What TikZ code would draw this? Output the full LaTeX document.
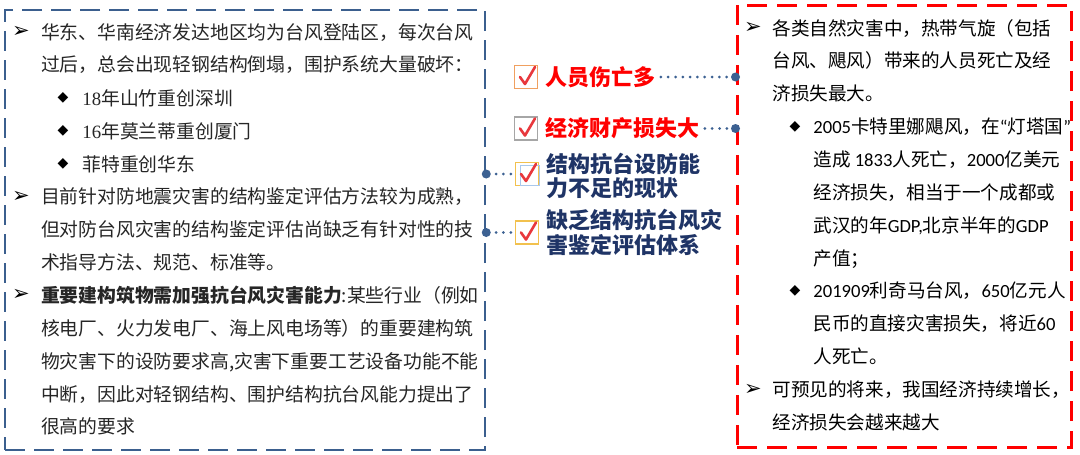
\documentclass[tikz,border=0pt]{standalone}
\usepackage{fontspec}
\setmainfont{Liberation Serif}
\newfontfamily\cjk{Noto Sans CJK SC}
\newfontfamily\cali{Carlito}
\newfontfamily\tms{Liberation Serif}
\newfontfamily\sym{DejaVu Sans}
\usetikzlibrary{positioning}

\definecolor{boxblue}{HTML}{3B5F8E}
\definecolor{dotblue}{HTML}{3C6192}
\definecolor{navy}{HTML}{1F3466}
\definecolor{chkorange}{HTML}{F0A060}
\definecolor{chkgray}{HTML}{A6A6A6}
\definecolor{chkgold}{HTML}{F2C14E}
\definecolor{chkinner}{HTML}{A9C8EC}
\definecolor{tickred}{HTML}{E8383D}

\newcommand{\arrbul}{➢}
\newcommand{\diabul}{◆}

\begin{document}
\begin{tikzpicture}[
    x=1pt, y=-1pt,
    thick,
    % paragraphs sit on the baseline of their last line
    leftpara/.style={anchor=base west, inner sep=0pt, align=left, text=black!85,
        font=\cjk\fontsize{18.8}{32.9}\selectfont},
    rightpara/.style={anchor=base west, inner sep=0pt, align=left, text=black,
        font=\cjk\fontsize{18.6}{32.85}\selectfont},
    keypoint/.style={inner sep=0pt, align=left, font=\cjk\bfseries\fontsize{22}{24.5}\selectfont},
    bul/.style={inner sep=0pt, font=\sym\fontsize{21}{21}\selectfont},
    dia/.style={inner sep=0pt, font=\sym\fontsize{14}{14}\selectfont},
    chkbox/.style={draw, line width=1.2pt, minimum size=23pt, inner sep=0pt},
    dotend/.style={circle, fill=dotblue, inner sep=0pt, minimum size=9pt},
    conn/.style={dotblue, line width=3pt, line cap=round, dash pattern=on 0pt off 7.3pt,
        shorten <=5pt, shorten >=3pt},
    redtick/.pic={\draw[tickred, line width=2.6pt, line cap=round, line join=round]
        (-6,0) -- (-1,7) -- (9,-10);}
]
\useasboundingbox[fill=white] (0,0) rectangle (1080,455);

% the two boxes
\node[draw=boxblue, line width=2.5pt, dash pattern=on 20pt off 9pt,
      minimum width=480pt, minimum height=440pt] (causes) at (245,230) {};
\node[draw=red, line width=3pt, dash pattern=on 20pt off 10pt,
      minimum width=334pt, minimum height=442pt] (effects) at (904,226) {};

% left box text
\node[bul] (lb1) at (21,32) {\arrbul};
\node[leftpara] (lp1) at (40.7,71.9) {华东、华南经济发达地区均为台风登陆区，每次台风\\过后，总会出现轻钢结构倒塌，围护系统大量破坏：};
\node[dia] (ld1) at (63,97.8) {\diabul};
\node[leftpara] (ls1) at (82,105) {{\tms 18}年山竹重创深圳};
\node[dia] (ld2) at (63,130.7) {\diabul};
\node[leftpara] (ls2) at (82,138) {{\tms 16}年莫兰蒂重创厦门};
\node[dia] (ld3) at (63,163.6) {\diabul};
\node[leftpara] (ls3) at (82,171) {菲特重创华东};
\node[bul] (lb2) at (21,196.5) {\arrbul};
\node[leftpara] (lp2) at (40.7,269.4) {目前针对防地震灾害的结构鉴定评估方法较为成熟，\\但对防台风灾害的结构鉴定评估尚缺乏有针对性的技\\术指导方法、规范、标准等。};
\node[bul] (lb3) at (21,295.2) {\arrbul};
\node[leftpara] (lp3) at (40.7,433.9) {{\bfseries 重要建构筑物需加强抗台风灾害能力}:某些行业（例如\\核电厂、火力发电厂、海上风电场等）的重要建构筑\\物灾害下的设防要求高,灾害下重要工艺设备功能不能\\中断，因此对轻钢结构、围护结构抗台风能力提出了\\很高的要求};

% right box text
\node[bul] (rb1) at (753,28) {\arrbul};
\node[rightpara] (rp1) at (772,100.7) {各类自然灾害中，热带气旋（包括\\台风、飓风）带来的人员死亡及经\\济损失最大。};
\node[dia] (rd1) at (795,126.5) {\diabul};
\node[rightpara] (rs1) at (813,265) {{\cali 2005}卡特里娜飓风，在{\cali “}灯塔国{\cali ”}\\造成 {\cali 1833}人死亡，{\cali 2000}亿美元\\经济损失，相当于一个成都或\\武汉的年{\cali GDP,}北京半年的{\cali GDP}\\产值；};
\node[dia] (rd2) at (795,290.8) {\diabul};
\node[rightpara] (rs2) at (813,363.6) {{\cali 201909}利奇马台风，{\cali 650}亿元人\\民币的直接灾害损失，将近{\cali 60}\\人死亡。};
\node[bul] (rb2) at (753,389.4) {\arrbul};
\node[rightpara] (rp2) at (772,429.3) {可预见的将来，我国经济持续增长，\\经济损失会越来越大};

% check boxes and key points
\node[chkbox, draw=chkorange] (chk1) at (526,77) {};
\node[chkbox, draw=chkgray] (chk2) at (526,128.5) {};
\node[chkbox, draw=chkgold] (chk3) at (527,174) {};
\draw[chkinner, line width=1pt] (520,165) rectangle (539,185);
\node[chkbox, draw=chkgold] (chk4) at (527,232.5) {};
\foreach \c in {chk1,chk2,chk3,chk4}
    \pic at (\c.center) {redtick};

\node[keypoint, text=red] (kp1) [right=7pt of chk1] {人员伤亡多};
\node[keypoint, text=red] (kp2) [right=7pt of chk2] {经济财产损失大};
\node[keypoint, text=navy] (kp3) [right=7pt of chk3, yshift=-2pt] {结构抗台设防能\\力不足的现状};
\node[keypoint, text=navy] (kp4) [right=7pt of chk4] {缺乏结构抗台风灾\\害鉴定评估体系};

% the ends on the box borders
\node[dotend] (e1) at (effects.west |- kp1) {};
\node[dotend] (e2) at (effects.west |- kp2) {};
\node[dotend] (c3) at (causes.east |- chk3) {};
\node[dotend] (c4) at (causes.east |- chk4) {};

% draw the dotted links
\path[conn]
(kp1) edge (e1)
(kp2) edge (e2)
(c3) edge (chk3)
(c4) edge (chk4);
\end{tikzpicture}
\end{document}
